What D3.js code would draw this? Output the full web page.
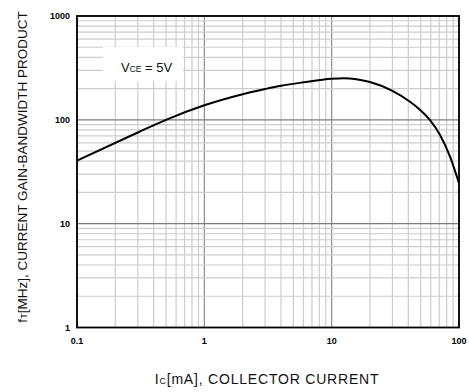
<!DOCTYPE html>
<html>
<head>
<meta charset="utf-8">
<script src="https://cdn.jsdelivr.net/npm/d3@7"></script>
<style>
  body { margin: 0; background: #fff; }
  svg { display: block; font-family: Arial, "Liberation Sans", sans-serif; }
</style>
</head>
<body>
<div id="chart"></div>
<script>
// Curve data (Ic in mA, fT in MHz)
const collectorCurrent = [0.1, 0.3, 0.5, 1, 2, 3, 4, 6, 10, 12.4, 20, 30, 41, 49.5, 59, 71, 85, 100];
const gainBandwidth = [40.5, 75.5, 100, 138, 176.5, 198, 213, 230, 249, 252, 231, 190, 150, 124.6, 100, 71.5, 44.2, 24.5];
const xTickLabels = ["0.1", "1", "10", "100"];
const yTickLabels = ["1", "10", "100", "1000"];

const width = 469, height = 392;
const margin = { top: 16, right: 10, bottom: 64.5, left: 77 };

const svg = d3.select('#chart')
  .append('svg')
  .attr('width', width)
  .attr('height', height);

const x = d3.scaleLog().domain([0.1, 100]).range([margin.left, width - margin.right]);
const y = d3.scaleLog().domain([1, 1000]).range([height - margin.bottom, margin.top]);

// Grid values: 1..9 per decade
const gridVals = (lo, hi) => {
  const out = [];
  for (let d = lo; d < hi; d *= 10) {
    for (let k = 1; k < 10; k++) out.push({ v: d * k, major: k === 1 });
  }
  out.push({ v: hi, major: true });
  return out;
};

const grid = svg.append('g').attr('class', 'grid');

grid.selectAll('line.vx')
  .data(gridVals(0.1, 100))
  .enter().append('line')
  .attr('class', 'vx')
  .attr('x1', d => x(d.v)).attr('x2', d => x(d.v))
  .attr('y1', y(1)).attr('y2', y(1000))
  .style('stroke', d => d.major ? '#8c8c8c' : '#cdcdcd')
  .style('stroke-width', 1.2);

grid.selectAll('line.hy')
  .data(gridVals(1, 1000))
  .enter().append('line')
  .attr('class', 'hy')
  .attr('y1', d => y(d.v)).attr('y2', d => y(d.v))
  .attr('x1', x(0.1)).attr('x2', x(100))
  .style('stroke', d => d.major ? '#7c7c7c' : '#cdcdcd')
  .style('stroke-width', 1.2);

// Label box over the grid
svg.append('rect')
  .attr('x', 103).attr('y', 47)
  .attr('width', 80).attr('height', 34)
  .style('fill', '#fff');

const vce = svg.append('text')
  .attr('x', 121).attr('y', 72)
  .style('font-size', '13px')
  .style('fill', '#111');
vce.append('tspan').text('V');
vce.append('tspan').style('font-size', '8.5px').text('CE');
vce.append('tspan').text(' = 5V');

// Curve
const line = d3.line()
  .x(d => x(d[0]))
  .y(d => y(d[1]))
  .curve(d3.curveMonotoneX);

svg.append('path')
  .datum(d3.zip(collectorCurrent, gainBandwidth))
  .attr('d', line)
  .style('fill', 'none')
  .style('stroke', '#000')
  .style('stroke-width', 2);

// Frame
svg.append('rect')
  .attr('x', x(0.1)).attr('y', y(1000))
  .attr('width', x(100) - x(0.1))
  .attr('height', y(1) - y(1000))
  .style('fill', 'none')
  .style('stroke', '#000')
  .style('stroke-width', 1.8);

// Tick labels
svg.append('g').selectAll('text')
  .data(xTickLabels)
  .enter().append('text')
  .attr('x', d => x(+d))
  .attr('y', y(1) + 16)
  .attr('text-anchor', 'middle')
  .style('font-size', '9px')
  .style('font-weight', 'bold')
  .text(d => d);

svg.append('g').selectAll('text')
  .data(yTickLabels)
  .enter().append('text')
  .attr('x', x(0.1) - 7)
  .attr('y', d => y(+d) + 3)
  .attr('text-anchor', 'end')
  .style('font-size', '9px')
  .style('font-weight', 'bold')
  .text(d => d);

// Axis titles
const xt = svg.append('text')
  .attr('x', 267)
  .attr('y', 384)
  .attr('text-anchor', 'middle')
  .style('font-size', '14px')
  .style('letter-spacing', '0.8px')
  .style('fill', '#111');
xt.append('tspan').text('I');
xt.append('tspan').style('font-size', '9px').text('C');
xt.append('tspan').text('[mA], COLLECTOR CURRENT');

const yt = svg.append('text')
  .attr('transform', 'translate(27,167) rotate(-90)')
  .attr('text-anchor', 'middle')
  .style('font-size', '13.5px')
  .style('fill', '#111');
yt.append('tspan').text('f');
yt.append('tspan').style('font-size', '9px').text('T');
yt.append('tspan').text('[MHz], CURRENT GAIN-BANDWIDTH PRODUCT');
</script>
</body>
</html>
